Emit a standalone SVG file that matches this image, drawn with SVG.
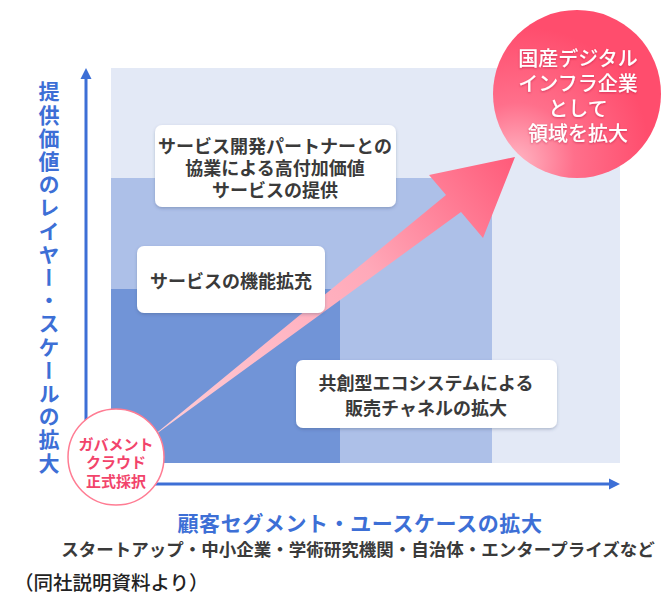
<svg xmlns="http://www.w3.org/2000/svg" width="662" height="594" viewBox="0 0 662 594">
  <style>
    text { font-family: "Noto Sans CJK JP", "Noto Sans", sans-serif; }
    .box { fill: #ffffff; filter: url(#shadow); }
    .boxtext { font-size: 18px; font-weight: 700; fill: #3a3a3a; text-anchor: middle; dominant-baseline: central; }
    .axis { stroke: #3d6fd6; stroke-width: 3; fill: none; }
    .axishead { fill: #3d6fd6; }
    .goaltext { font-size: 20px; font-weight: 500; fill: #ffffff; text-anchor: middle; dominant-baseline: central; filter: url(#tshadow); }
    .starttext { font-size: 15px; font-weight: 700; fill: #f2446b; text-anchor: middle; dominant-baseline: central; }
  </style>
  <defs>
    <filter id="shadow" x="-10%" y="-20%" width="120%" height="150%">
      <feDropShadow dx="0" dy="1.5" stdDeviation="1.5" flood-color="#3a4a70" flood-opacity="0.3"/>
    </filter>
    <filter id="tshadow" x="-10%" y="-30%" width="120%" height="160%">
      <feDropShadow dx="0" dy="1" stdDeviation="1" flood-color="#a01030" flood-opacity="0.45"/>
    </filter>
    <radialGradient id="goalGrad" cx="0.18" cy="0.85" r="0.75" fx="0.12" fy="0.92">
      <stop offset="0" stop-color="#ffb9c6"/>
      <stop offset="0.45" stop-color="#ff6f8b"/>
      <stop offset="1" stop-color="#ff4d6d"/>
    </radialGradient>
    <linearGradient id="arrowGrad" gradientUnits="userSpaceOnUse" x1="150" y1="440" x2="515" y2="157">
      <stop offset="0" stop-color="#ffcdd6"/>
      <stop offset="0.6" stop-color="#ffa9b9"/>
      <stop offset="1" stop-color="#ff5a79"/>
    </linearGradient>
  </defs>

  <rect x="0" y="0" width="662" height="594" fill="#ffffff"/>

  <g id="panels">
    <rect x="111" y="68" width="509" height="395" fill="#e3e9f6"/>
    <rect x="111" y="178" width="381" height="285" fill="#adc0e8"/>
    <rect x="111" y="289" width="229" height="174" fill="#7194d7"/>
  </g>

  <g id="connectors">
    <path class="axis" d="M86,77 L86,484 L611,484"/>
    <polygon class="axishead" points="86,68 91.5,79 80.5,79"/>
    <polygon class="axishead" points="620,484 609,478.5 609,489.5"/>
    <polygon id="growth-arrow" fill="url(#arrowGrad)" points="148,440 446,195 429,175 515,157 483,238 461,212"/>
  </g>

  <g id="y-axis-label">
    <text x="49" y="81" font-size="21" font-weight="700" fill="#3d6fd6" letter-spacing="2.2" style="writing-mode: vertical-rl;">提供価値のレイヤー・スケールの拡大</text>
  </g>

  <g id="node-partner">
    <rect class="box" x="155" y="125" width="241" height="82" rx="7"/>
    <text class="boxtext" x="275" y="145">サービス開発パートナーとの</text>
    <text class="boxtext" x="275" y="167">協業による高付加価値</text>
    <text class="boxtext" x="275" y="188.5">サービスの提供</text>
  </g>

  <g id="node-function">
    <rect class="box" x="137" y="246" width="188" height="67" rx="7"/>
    <text class="boxtext" x="231" y="280">サービスの機能拡充</text>
  </g>

  <g id="node-ecosystem">
    <rect class="box" x="296" y="360" width="261" height="68" rx="7"/>
    <text class="boxtext" x="426" y="382">共創型エコシステムによる</text>
    <text class="boxtext" x="426" y="407">販売チャネルの拡大</text>
  </g>

  <g id="node-goal">
    <circle cx="577" cy="94" r="84" fill="url(#goalGrad)"/>
    <text class="goaltext" x="578" y="57">国産デジタル</text>
    <text class="goaltext" x="578" y="82">インフラ企業</text>
    <text class="goaltext" x="578" y="107">として</text>
    <text class="goaltext" x="578" y="132">領域を拡大</text>
  </g>

  <g id="node-start">
    <circle cx="116" cy="457" r="48" fill="#ffffff" stroke="#ff7c93" stroke-width="1.5"/>
    <text class="starttext" x="116" y="443">ガバメント</text>
    <text class="starttext" x="116" y="461.5">クラウド</text>
    <text class="starttext" x="116" y="480">正式採択</text>
  </g>

  <g id="x-axis-label">
    <text x="360" y="522" font-size="21" font-weight="700" fill="#3d6fd6" text-anchor="middle" dominant-baseline="central" letter-spacing="0.6">顧客セグメント・ユースケースの拡大</text>
    <text x="358" y="548" font-size="17.5" font-weight="700" fill="#3a3a3a" text-anchor="middle" dominant-baseline="central">スタートアップ・中小企業・学術研究機関・自治体・エンタープライズなど</text>
  </g>

  <g id="source">
    <text x="14" y="581.5" font-size="19.5" font-weight="500" fill="#222222" dominant-baseline="central">（同社説明資料より）</text>
  </g>
</svg>
